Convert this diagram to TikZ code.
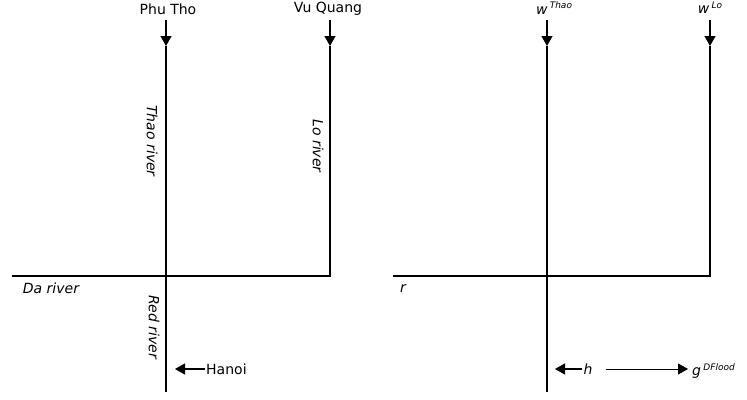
\documentclass[tikz,border=0pt]{standalone}
\usepackage{fontspec}
\setmainfont{DejaVu Sans}
\usetikzlibrary{arrows.meta}
\newcommand{\riversup}[1]{\raisebox{0.7ex}{\fontsize{9}{9}\selectfont\itshape #1}}
\tikzset{
  river/.style={line width=1.2pt},
  flow/.style={line width=1.2pt,-{Triangle[width=11pt,length=10pt]}},
  lbl/.style={font=\fontsize{14}{16}\selectfont, inner sep=1pt},
  ilbl/.style={font=\fontsize{14}{16}\selectfont\itshape, inner sep=1pt},
}
\begin{document}
\begin{tikzpicture}[x=1pt,y=-1pt]
            \useasboundingbox (0,0) rectangle (747,399);
            % geography
            \node[lbl] (phutho) at (168,9){Phu Tho};
            \node[lbl] (vuquang) at (328,9){Vu Quang};
            \coordinate (thaotop) at (166,20);
            \coordinate (thaoin) at (166,46);
            \coordinate (lotop) at (330,20);
            \coordinate (loin) at (330,46);
            \coordinate (meet) at (166,276);
            \coordinate (locorner) at (330,276);
            \coordinate (dastart) at (12,276);
            \coordinate (redend) at (166,392);
            \coordinate (hanoitip) at (175,369);
            \draw[flow] (thaotop) -- (thaoin);
            \draw[flow] (lotop) -- (loin);
            \draw[river] (thaoin) -- (redend);
            \draw[river] (loin) -- (locorner) -- (dastart);
            \node[ilbl, rotate=-90] (thaoriver) at (152,141){Thao river};
            \node[ilbl, rotate=-90] (loriver) at (318,146){Lo river};
            \node[ilbl] (dariver) at (51,288){Da river};
            \node[ilbl, rotate=-90] (redriver) at (154,327){Red river};
            \node[lbl, anchor=west] (hanoi) at (205,369){Hanoi};
            \draw[flow] (hanoi.west) -- (hanoitip);
            % model
            \node[ilbl] (wthao) at (554,8){w\,\riversup{Thao}};
            \node[ilbl] (wlo) at (710,8){w\,\riversup{Lo}};
            \coordinate (wthaotop) at (547,20);
            \coordinate (wthaoin) at (547,46);
            \coordinate (wlotop) at (710,20);
            \coordinate (wloin) at (710,46);
            \coordinate (wmeet) at (547,276);
            \coordinate (wlocorner) at (710,276);
            \coordinate (rstart) at (393,276);
            \coordinate (wend) at (547,392);
            \coordinate (htip) at (555,369);
            \coordinate (gin) at (688,369);
            \draw[flow] (wthaotop) -- (wthaoin);
            \draw[flow] (wlotop) -- (wloin);
            \draw[river] (wthaoin) -- (wend);
            \draw[river] (wloin) -- (wlocorner) -- (rstart);
            \node[ilbl] (r) at (403,289){r};
            \node[ilbl] (h) at (588,369){h};
            \node[ilbl, anchor=west] (g) at (691,371){g\,\riversup{DFlood}};
            \draw[flow] (h.west) -- (htip);
            \draw[flow, line width=0.8pt] ([xshift=12pt]h.east) -- (gin);
        \end{tikzpicture}
\end{document}
